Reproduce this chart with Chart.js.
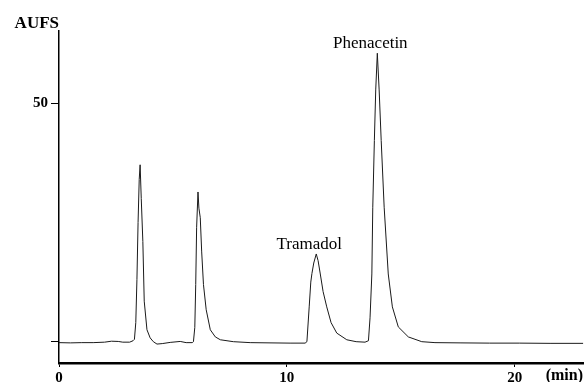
<!DOCTYPE html>
<html>
<head>
<meta charset="utf-8">
<script src="https://cdn.jsdelivr.net/npm/chart.js@4"></script>
<style>
  html, body { margin: 0; padding: 0; background: #fff; }
  #wrap { width: 584px; height: 382px; }
</style>
</head>
<body>
<div id="wrap"><canvas id="chrom" width="584" height="382"></canvas></div>
<script>
// retention time (min) and detector response (AUFS)
const times = [0, 0.5, 1.0, 1.5, 2.0, 2.3, 2.6, 2.8, 3.1, 3.25,
    3.31, 3.37, 3.42, 3.47, 3.52, 3.56, 3.61, 3.68, 3.74, 3.86,
    4.0, 4.14, 4.3, 4.53, 4.88, 5.32, 5.58, 5.85, 5.9, 5.96,
    6.0, 6.04, 6.1, 6.14, 6.2, 6.26, 6.34, 6.46, 6.64, 6.86,
    7.08, 7.65, 8.39, 9.26, 10.14, 10.8, 10.88, 10.98, 11.05, 11.1,
    11.18, 11.29, 11.37, 11.46, 11.59, 11.75, 11.94, 12.19, 12.63, 13.04,
    13.43, 13.58, 13.65, 13.73, 13.77, 13.84, 13.9, 13.97, 14.05, 14.14,
    14.27, 14.45, 14.63, 14.89, 15.33, 15.92, 16.5, 17.6, 18.9, 20.2,
    21.55, 23.0];
const signal = [-0.2, -0.25, -0.2, -0.2, -0.1, 0.1, 0.05, -0.1, -0.1, 0.2,
    0.5, 4, 13, 25, 34, 37.1, 30, 21, 8.5, 2.5,
    0.8, 0, -0.5, -0.4, -0.15, 0.05, -0.2, -0.2, 0, 3,
    12, 24, 31.4, 28, 26, 19, 12, 6.7, 2.5, 1.0,
    0.4, 0, -0.2, -0.25, -0.3, -0.3, 0, 7.3, 12.5, 14.3,
    16.5, 18.4, 17, 14.4, 10.5, 7.3, 4.0, 1.8, 0.4, 0,
    -0.1, 0.2, 5, 14.2, 28.2, 42.2, 52.8, 60.5, 52.8, 42.2,
    28.2, 14.2, 7.3, 3.1, 1.0, 0, -0.2, -0.25, -0.3, -0.3,
    -0.35, -0.35];

const xTicks = [0, 10, 20];
const yTicks = [0, 50];
const peakNames = ['Tramadol', 'Phenacetin'];
const peakTimes = [11.29, 13.97];
const peakHeights = [18.4, 60.5];

const SERIF = '"Liberation Serif", "Times New Roman", serif';

const points = times.map((t, i) => ({ x: t, y: signal[i] }));

// AUFS, (min) and the peak names
const annotations = {
    id: 'annotations',
    afterDraw(chart) {
        const ctx = chart.ctx;
        const xs = chart.scales.x, ys = chart.scales.y;
        const area = chart.chartArea;
        ctx.save();
        ctx.fillStyle = '#000';
        ctx.font = 'bold 17px ' + SERIF;
        ctx.textAlign = 'right';
        ctx.textBaseline = 'alphabetic';
        ctx.fillText('AUFS', area.left, 28);

        ctx.font = 'bold 16px ' + SERIF;
        ctx.textAlign = 'right';
        ctx.textBaseline = 'alphabetic';
        ctx.fillText('(min)', 583, 380);

        ctx.font = '17px ' + SERIF;
        ctx.textAlign = 'center';
        ctx.textBaseline = 'alphabetic';
        peakNames.forEach((name, i) => {
            const px = xs.getPixelForValue(peakTimes[i]) - 7;
            const py = ys.getPixelForValue(peakHeights[i]) - 5;
            ctx.fillText(name, px, py);
        });
        ctx.restore();
    }
};

new Chart(document.getElementById('chrom'), {
    type: 'scatter',
    data: {
        datasets: [{
            data: points,
            showLine: true,
            borderColor: '#1a1a1a',
            borderWidth: 1,
            pointRadius: 0,
            tension: 0
        }]
    },
    options: {
        responsive: false,
        animation: false,
        layout: { padding: { top: 31, right: 0, left: 0, bottom: 0 } },
        plugins: { legend: { display: false }, tooltip: { enabled: false } },
        scales: {
            x: {
                type: 'linear',
                min: 0,
                max: 23.04,
                afterBuildTicks: s => { s.ticks = xTicks.map(v => ({ value: v })); },
                afterFit: s => { s.height = 19; },
                border: { display: true, color: '#000', width: 2.5 },
                grid: { drawOnChartArea: false, drawTicks: true, tickLength: 4, color: '#000' },
                ticks: {
                    color: '#000',
                    padding: 2,
                    maxRotation: 0,
                    font: { family: SERIF, size: 15, weight: 'bold' }
                }
            },
            y: {
                type: 'linear',
                min: -4.47,
                max: 65.16,
                afterBuildTicks: s => { s.ticks = yTicks.map(v => ({ value: v })); },
                afterFit: s => { s.width = 59; },
                border: { display: true, color: '#000', width: 1.5 },
                grid: { drawOnChartArea: false, drawTicks: true, tickLength: 8, color: '#000' },
                ticks: {
                    color: '#000',
                    padding: 3,
                    font: { family: SERIF, size: 15, weight: 'bold' },
                    callback: v => (v === 0 ? '' : String(v))
                }
            }
        }
    },
    plugins: [annotations]
});
</script>
</body>
</html>
